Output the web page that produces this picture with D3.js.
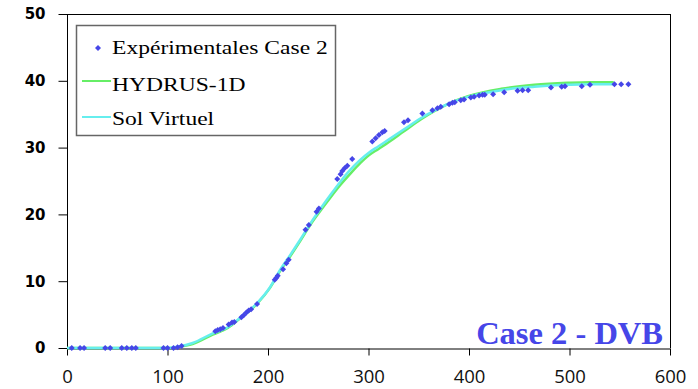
<!DOCTYPE html>
<html><head><meta charset="utf-8">
<script src="https://cdn.jsdelivr.net/npm/d3@7"></script>
<style>body{margin:0;background:#fff}svg{display:block}
.serif{font-family:"Liberation Serif","Times New Roman",Times,"DejaVu Serif",serif}</style>
</head><body><svg id="c" width="698" height="389"></svg>
<script>
// Experimental points (Case 2)
const expX = [4.7,13,17,38,43,54.5,59.5,64.5,68.5,96,100,106,110,114,
  147.6,150,152.5,155.2,160.8,164.2,166.5,173.5,175.8,178.5,180.8,183.2,189.1,
  206.7,208.4,209.7,215,218.3,220.6,237.3,240.6,248.3,250.6,
  268.9,272.2,273.9,276.2,278.9,283.8,303.8,307.1,310.4,313.8,316.1,335.3,339.3,
  353.6,363.6,368.6,371.9,380.2,383.5,385.8,391.8,395.1,401.8,405.1,410.1,413.5,415.7,
  424,435,448.3,453.3,458.9,481.6,492.2,495.5,512.2,520.4,544.7,551.4,558.6];
const expY = [0,0,0,0,0,0,0,0,0,0,0,0,0.1,0.3,
  2.5,2.7,2.8,3.0,3.5,3.8,3.9,4.6,4.9,5.3,5.6,5.8,6.6,
  10.2,10.5,10.8,11.8,12.7,13.2,17.7,18.4,20.4,20.9,
  25.3,26.0,26.5,26.9,27.3,28.3,30.9,31.4,31.9,32.3,32.5,33.8,34.1,
  35.1,35.6,35.9,36.1,36.5,36.7,36.8,37.1,37.2,37.5,37.6,37.8,37.9,37.9,
  38.0,38.3,38.5,38.6,38.6,39.0,39.1,39.2,39.2,39.4,39.5,39.5,39.5];
// HYDRUS-1D curve
const hydX = [0,50,100,110,125,145,160,172,189,202,212,222,232,242,252,262,272,282,292,300,310,320,335,352,365,380,399,432,465,498,520,544];
const hydY = [0,0,0,0.15,0.6,2.0,3.0,4.4,6.6,9.0,11.5,13.7,16.0,18.4,20.5,22.5,24.4,26.1,27.7,28.8,29.8,30.8,32.4,34.2,35.4,36.6,37.7,38.8,39.4,39.7,39.8,39.8];
// Sol Virtuel curve
const solX = [0,50,100,110,125,145,160,172,189,202,212,222,232,242,252,262,272,282,292,300,310,320,335,352,365,380,399,432,465,498,520,544];
const solY = [0,0,0,0.2,0.75,2.2,3.1,4.5,6.7,9.1,11.7,13.9,16.2,18.6,20.8,22.9,24.9,26.7,28.2,29.2,30.2,31.2,32.7,34.4,35.5,36.6,37.6,38.6,39.1,39.4,39.5,39.5];
const xTicks = [0,100,200,300,400,500,600];
const yTicks = [0,10,20,30,40,50];
const legendLabels = ["Expérimentales Case 2","HYDRUS-1D","Sol Virtuel"];
const titleText = "Case 2 - DVB";

const svg = d3.select("#c");
const L=67,R=670,T=14,B=348;
const x = d3.scaleLinear().domain([0,600]).range([L,R]);
const y = d3.scaleLinear().domain([0,50]).range([B,T]);
const cPts="#4646E8", cGreen="#66EE66", cCyan="#66EEEE";

// borders top/right
svg.append("line").attr("x1",L).attr("x2",R).attr("y1",T+0.5).attr("y2",T+0.5).attr("stroke","#000");
svg.append("line").attr("x1",R+0.5).attr("x2",R+0.5).attr("y1",T).attr("y2",B).attr("stroke","#000");

// axes
const ya = svg.append("g").attr("transform",`translate(${L+0.5},0)`)
  .call(d3.axisLeft(y).tickValues(yTicks).tickSize(9).tickSizeOuter(0).tickPadding(13));
ya.selectAll("text").attr("font-family","DejaVu Sans").attr("font-weight","bold").attr("font-size",15).attr("fill","#000");
ya.select(".domain").attr("d",`M0,${T}V${B+7}`);
const xa = svg.append("g").attr("transform",`translate(0,${B+0.5})`)
  .call(d3.axisBottom(x).tickValues(xTicks).tickSize(7).tickSizeOuter(0).tickPadding(14));
xa.selectAll("text").attr("font-family","Open Sans").attr("font-size",18.5).attr("fill","#111").attr("dy","0.71em");
svg.selectAll(".tick line").attr("stroke","#000");

// lines
const line = (xs,ys)=>d3.line().x((d,i)=>x(xs[i])).y((d,i)=>y(ys[i])).curve(d3.curveMonotoneX)(xs);
svg.append("path").attr("d",line(hydX,hydY)).attr("fill","none").attr("stroke",cGreen).attr("stroke-width",2.5);
svg.append("path").attr("d",line(solX,solY)).attr("fill","none").attr("stroke",cCyan).attr("stroke-width",2.5);

// points
const sym = d3.symbol().type(d3.symbolSquare).size(18);
svg.append("g").selectAll("path").data(expX).join("path")
  .attr("d",sym).attr("fill",cPts)
  .attr("transform",(d,i)=>`translate(${x(d)},${y(expY[i])}) rotate(45)`);

// legend
const lg = svg.append("g");
lg.append("rect").attr("x",76.5).attr("y",25.5).attr("width",259).attr("height",110)
  .attr("fill","#fff").attr("stroke","#666").attr("stroke-width",1.5);
lg.append("path").attr("d",sym).attr("fill",cPts).attr("transform","translate(98,48) rotate(45)");
lg.append("line").attr("x1",82).attr("x2",111).attr("y1",81).attr("y2",81).attr("stroke",cGreen).attr("stroke-width",2);
lg.append("line").attr("x1",82).attr("x2",111).attr("y1",117).attr("y2",117).attr("stroke",cCyan).attr("stroke-width",2);
const lys=[54,91,125];
legendLabels.forEach((t,i)=>lg.append("text").attr("class","serif")
  .attr("transform",`translate(112,${lys[i]}) scale(1.24,1)`).text(t)
  .attr("font-size",19).attr("fill","#000"));

// title
svg.append("text").attr("class","serif").attr("x",663).attr("y",344).attr("text-anchor","end").text(titleText)
  .attr("font-weight","bold").attr("font-size",32.5).attr("fill","#4646E8");
</script></body></html>
